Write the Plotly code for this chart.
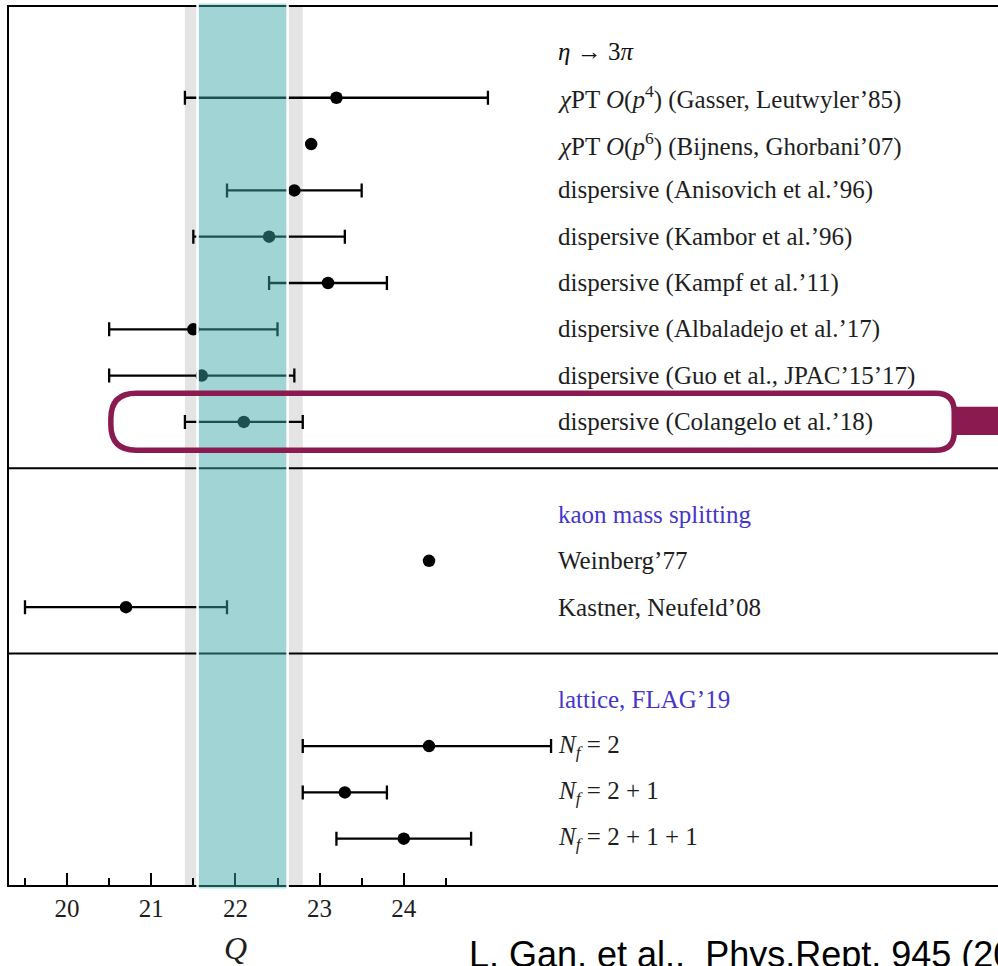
import plotly.graph_objects as go

# ---- data -------------------------------------------------------------
eta_labels = [
    "<i>χ</i>PT <i>O</i>(<i>p</i><sup>4</sup>) (Gasser, Leutwyler’85)",
    "<i>χ</i>PT <i>O</i>(<i>p</i><sup>6</sup>) (Bijnens, Ghorbani’07)",
    "dispersive (Anisovich et al.’96)",
    "dispersive (Kambor et al.’96)",
    "dispersive (Kampf et al.’11)",
    "dispersive (Albaladejo et al.’17)",
    "dispersive (Guo et al., JPAC’15’17)",
    "dispersive (Colangelo et al.’18)",
]
eta_q = [23.2, 22.9, 22.7, 22.4, 23.1, 21.5, 21.6, 22.1]
eta_err_lo = [1.8, None, 0.8, 0.9, 0.7, 1.0, 1.1, 0.7]
eta_err_hi = [1.8, None, 0.8, 0.9, 0.7, 1.0, 1.1, 0.7]

kaon_labels = ["Weinberg’77", "Kastner, Neufeld’08"]
kaon_q = [24.3, 20.7]
kaon_err_lo = [None, 1.2]
kaon_err_hi = [None, 1.2]

lattice_labels = [
    "<i>N<sub>f</sub></i> = 2",
    "<i>N<sub>f</sub></i> = 2 + 1",
    "<i>N<sub>f</sub></i> = 2 + 1 + 1",
]
lattice_q = [24.3, 23.3, 24.0]
lattice_err_lo = [1.5, 0.5, 0.8]
lattice_err_hi = [1.45, 0.5, 0.8]

section_titles = ["<i>η</i> → 3<i>π</i>", "kaon mass splitting", "lattice, FLAG’19"]

tick_vals = [20, 21, 22, 23, 24]
tick_text = ["20", "21", "22", "23", "24"]
minor_tick_vals = [19.5, 20.5, 21.5, 22.5, 23.5, 24.5]

outer_band = (21.4, 22.8)   # Colangelo et al. 22.1 +- 0.7
inner_band = (21.55, 22.62)
highlight = ("eta", 7)      # entry framed by the box

# ---- styling ----------------------------------------------------------
SERIF = "Liberation Serif"
TEXT = "#1e1e1e"
BLUE = "#4636c8"
MAGENTA = "#8b1a50"
X_RANGE = [19.31, 31.06]
LABEL_X = 25.81
FS = 25

sections = [
    ("eta", section_titles[0], "#111111", eta_labels, eta_q, eta_err_lo, eta_err_hi),
    ("kaon", section_titles[1], BLUE, kaon_labels, kaon_q, kaon_err_lo, kaon_err_hi),
    ("lattice", section_titles[2], BLUE, lattice_labels, lattice_q, lattice_err_lo, lattice_err_hi),
]


def xpaper(q):
    return (q - X_RANGE[0]) / (X_RANGE[1] - X_RANGE[0])


fig = go.Figure()
annotations = []
shapes = []

# grey outer band (under everything)
shapes.append(dict(type="rect", xref="x", yref="y", x0=outer_band[0], x1=outer_band[1],
                   y0=-2, y1=30, fillcolor="#e4e4e4", line=dict(width=0), layer="below"))

row = 0
separators = []
highlight_row = None
for key, title, tcolor, labels, qs, lo, hi in sections:
    annotations.append(dict(x=LABEL_X, y=row, xref="x", yref="y", text=title,
                            showarrow=False, xanchor="left", yanchor="middle",
                            font=dict(family=SERIF, size=FS, color=tcolor)))
    rows = [row + 1 + i for i in range(len(labels))]
    for r, lab in zip(rows, labels):
        annotations.append(dict(x=LABEL_X, y=r, xref="x", yref="y", text=lab,
                                showarrow=False, xanchor="left", yanchor="middle",
                                font=dict(family=SERIF, size=FS, color=TEXT)))
    if key == highlight[0]:
        highlight_row = rows[highlight[1]]
    with_err = [i for i in range(len(qs)) if lo[i] is not None]
    no_err = [i for i in range(len(qs)) if lo[i] is None]
    if with_err:
        fig.add_trace(go.Scatter(
            x=[qs[i] for i in with_err], y=[rows[i] for i in with_err], mode="markers",
            marker=dict(color="black", size=12.5),
            error_x=dict(type="data", symmetric=False,
                         array=[hi[i] for i in with_err],
                         arrayminus=[lo[i] for i in with_err],
                         color="black", thickness=2.3, width=7),
            showlegend=False, hoverinfo="skip"))
    if no_err:
        fig.add_trace(go.Scatter(
            x=[qs[i] for i in no_err], y=[rows[i] for i in no_err], mode="markers",
            marker=dict(color="black", size=12.5), showlegend=False, hoverinfo="skip"))
    sep = rows[-1] + 1
    separators.append(sep)
    row = sep + 1

y_bottom = separators[-1]
Y_RANGE = [y_bottom, -0.96]

for s in separators[:-1]:
    shapes.append(dict(type="line", xref="x", yref="y", x0=X_RANGE[0], x1=X_RANGE[1],
                       y0=s, y1=s, line=dict(color="black", width=2), layer="below"))

# translucent cyan inner band drawn over the data, with white edges
shapes.append(dict(type="rect", xref="paper", yref="paper",
                   x0=xpaper(inner_band[0]), x1=xpaper(inner_band[1]),
                   y0=-0.004, y1=1.004, fillcolor="rgba(70,192,192,0.42)",
                   line=dict(width=0), layer="above"))
for edge in inner_band:
    shapes.append(dict(type="line", xref="paper", yref="paper",
                       x0=xpaper(edge), x1=xpaper(edge), y0=-0.006, y1=1.006,
                       line=dict(color="white", width=2.5), layer="above"))

# rounded highlight frame around the selected entry
bx0, bx1 = 20.52, 30.54
by0, by1 = highlight_row - 0.62, highlight_row + 0.61
rxl, ryl = 0.30, 0.55   # left corner radius (x units, row units)
rxr, ryr = 0.22, 0.40   # right corner radius
path = (f"M {bx0 + rxl},{by0} L {bx1 - rxr},{by0} Q {bx1},{by0} {bx1},{by0 + ryr} "
        f"L {bx1},{by1 - ryr} Q {bx1},{by1} {bx1 - rxr},{by1} "
        f"L {bx0 + rxl},{by1} Q {bx0},{by1} {bx0},{by1 - ryl} "
        f"L {bx0},{by0 + ryl} Q {bx0},{by0} {bx0 + rxl},{by0} Z")
shapes.append(dict(type="path", xref="x", yref="y", path=path,
                   line=dict(color=MAGENTA, width=5.5), layer="above"))
shapes.append(dict(type="rect", xref="x", yref="y", x0=bx1, x1=X_RANGE[1] + 1,
                   y0=highlight_row - 0.33, y1=highlight_row + 0.28,
                   fillcolor=MAGENTA, line=dict(width=0), layer="above"))

# axis title and citation
annotations.append(dict(x=22, y=-0.072, xref="x", yref="paper", text="<i>Q</i>",
                        showarrow=False, xanchor="center", yanchor="middle",
                        font=dict(family=SERIF, size=32, color=TEXT)))
annotations.append(dict(x=xpaper(24.75), y=-0.0535, xref="paper", yref="paper",
                        text="L. Gan, et al.,  Phys.Rept. 945 (2022) 1",
                        showarrow=False, xanchor="left", yanchor="top",
                        font=dict(family="Liberation Sans, Arial", size=36, color="black")))

fig.update_layout(
    width=998, height=966,
    margin=dict(l=9, r=0, t=7, b=81),
    paper_bgcolor="white", plot_bgcolor="rgba(0,0,0,0)",
    shapes=shapes, annotations=annotations,
    xaxis=dict(range=X_RANGE, showline=True, linecolor="black", linewidth=2, mirror=True,
               ticks="inside", ticklen=12, tickwidth=2, tickcolor="black",
               tickmode="array", tickvals=tick_vals, ticktext=tick_text,
               tickfont=dict(family=SERIF, size=25, color=TEXT),
               showgrid=False, zeroline=False,
               minor=dict(tickmode="array", tickvals=minor_tick_vals, ticks="inside",
                          ticklen=7, tickwidth=2, tickcolor="black", showgrid=False)),
    yaxis=dict(range=Y_RANGE, showline=True, linecolor="black", linewidth=2, mirror=False,
               showticklabels=False, ticks="", showgrid=False, zeroline=False),
)

fig.write_html("out.html")
